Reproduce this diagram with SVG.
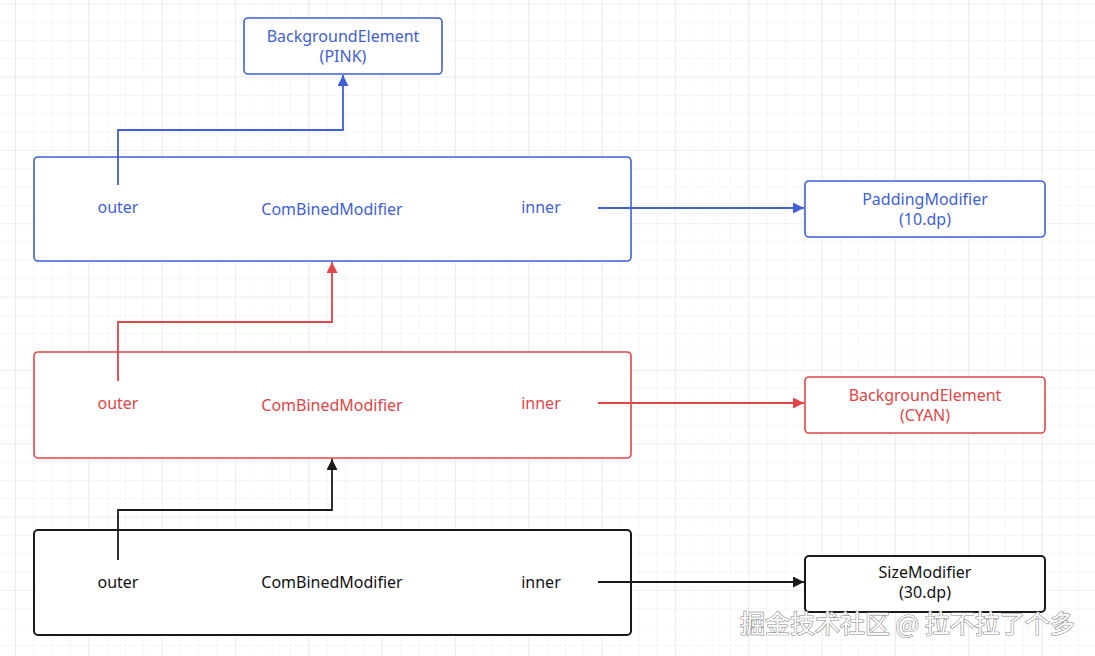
<svg xmlns="http://www.w3.org/2000/svg" width="1095" height="656" viewBox="0 0 1095 656">
<defs>
<pattern id="g" x="15" y="3.3" width="18.33" height="18.33" patternUnits="userSpaceOnUse">
<path d="M0 0V18.33M0 0H18.33" fill="none" stroke="#eeeeee" stroke-width="1"/>
</pattern>
<pattern id="G" x="15" y="3.3" width="73.33" height="73.33" patternUnits="userSpaceOnUse">
<path d="M0 0V73.33M0 0H73.33" fill="none" stroke="#e6e6e6" stroke-width="1.2"/>
</pattern>
<marker id="ab" viewBox="0 0 10 10" refX="10" refY="5" markerWidth="12" markerHeight="11" markerUnits="userSpaceOnUse" orient="auto"><path d="M0 0L10 5L0 10Z" fill="#3f5fd6"/></marker>
<marker id="ar" viewBox="0 0 10 10" refX="10" refY="5" markerWidth="12" markerHeight="11" markerUnits="userSpaceOnUse" orient="auto"><path d="M0 0L10 5L0 10Z" fill="#e04646"/></marker>
<marker id="ak" viewBox="0 0 10 10" refX="10" refY="5" markerWidth="12" markerHeight="11" markerUnits="userSpaceOnUse" orient="auto"><path d="M0 0L10 5L0 10Z" fill="#1a1a1a"/></marker>
</defs>
<style>
text{font-family:"Noto Sans","Liberation Sans",sans-serif;font-size:16px;text-anchor:middle}
.b rect{fill:#fff;stroke:#3f5fd6;stroke-width:1.6}
.b text{fill:#3f5fd6}
.r rect{fill:#fff;stroke:#e04646;stroke-width:1.6}
.r text{fill:#e04646}
.k rect{fill:#fff;stroke:#1a1a1a;stroke-width:2}
.k text{fill:#111}
.c path{fill:none;stroke-width:1.8}
.wm{font-family:"Noto Sans CJK SC",sans-serif;font-size:25px;fill:#fff;stroke:#888;stroke-width:1.2;paint-order:stroke;text-anchor:start}
</style>
<rect width="1095" height="656" fill="#fff"/>
<rect width="1095" height="656" fill="url(#g)"/>
<rect width="1095" height="656" fill="url(#G)"/>

<g id="bgPink" class="b"><rect x="244" y="18" width="198" height="56" rx="4"/><text x="343" y="42">BackgroundElement</text><text x="343" y="62">(PINK)</text></g>
<g id="combinedBlue" class="b"><rect x="34" y="157" width="597" height="104" rx="4"/><text x="118" y="213">outer</text><text x="332" y="215">ComBinedModifier</text><text x="541" y="213">inner</text></g>
<g id="padding" class="b"><rect x="805" y="181" width="240" height="56" rx="4"/><text x="925" y="205">PaddingModifier</text><text x="925" y="225">(10.dp)</text></g>
<g id="combinedRed" class="r"><rect x="34" y="352" width="597" height="106" rx="4"/><text x="118" y="409">outer</text><text x="332" y="411">ComBinedModifier</text><text x="541" y="409">inner</text></g>
<g id="bgCyan" class="r"><rect x="805" y="377" width="240" height="56" rx="4"/><text x="925" y="401">BackgroundElement</text><text x="925" y="421">(CYAN)</text></g>
<g id="combinedBlack" class="k"><rect x="34" y="530" width="597" height="105" rx="4"/><text x="118" y="588">outer</text><text x="332" y="588">ComBinedModifier</text><text x="541" y="588">inner</text></g>
<g id="size" class="k"><rect x="805" y="556" width="240" height="56" rx="4"/><text x="925" y="578">SizeModifier</text><text x="925" y="598">(30.dp)</text></g>

<g id="connectors" class="c">
<path d="M118 185V130H343V75" stroke="#3f5fd6" marker-end="url(#ab)"/>
<path d="M598 208H804" stroke="#3f5fd6" marker-end="url(#ab)"/>
<path d="M118 381V322H332V262" stroke="#e04646" marker-end="url(#ar)"/>
<path d="M598 403H804" stroke="#e04646" marker-end="url(#ar)"/>
<path d="M118 560V510H332V459" stroke="#1a1a1a" marker-end="url(#ak)"/>
<path d="M598 582H804" stroke="#1a1a1a" marker-end="url(#ak)"/>
</g>
<text class="wm" x="740" y="633">掘金技术社区 @ 拉不拉了个多</text>
</svg>
